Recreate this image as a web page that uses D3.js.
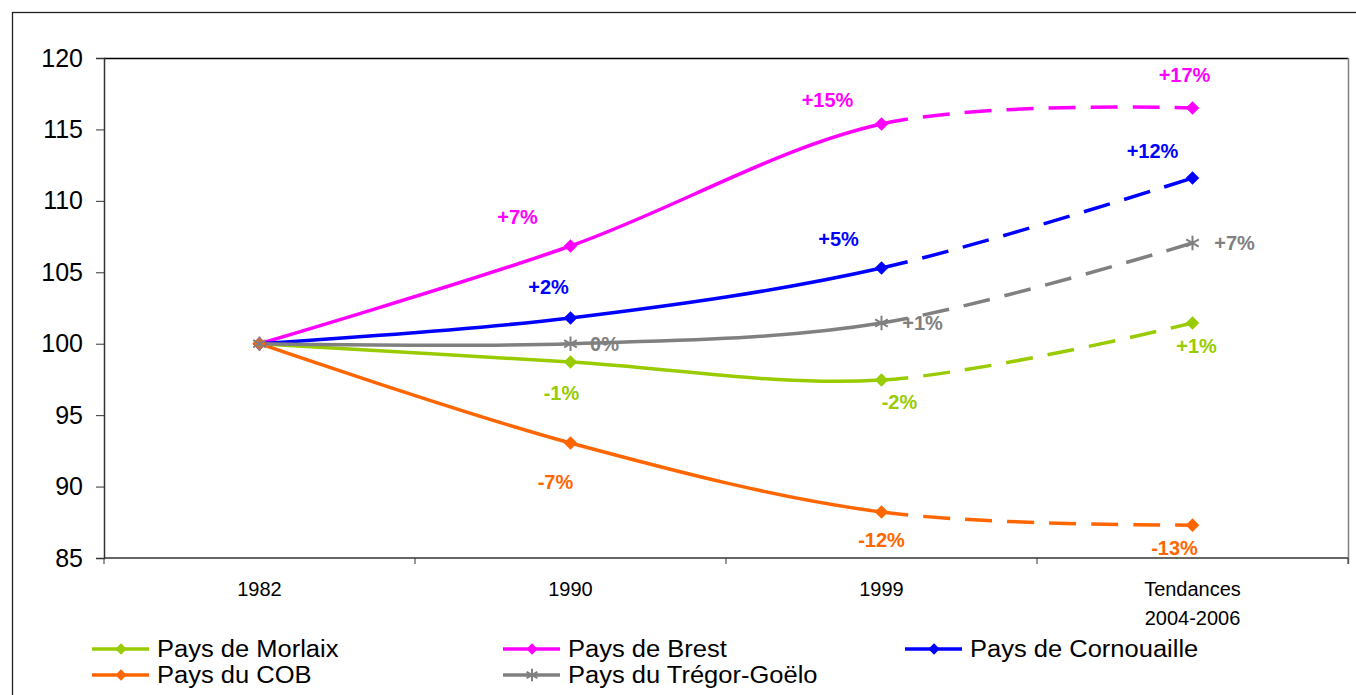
<!DOCTYPE html>
<html>
<head>
<meta charset="utf-8">
<script src="https://cdn.jsdelivr.net/npm/d3@7"></script>
<style>
  body { margin: 0; background: #fff; }
  svg { display: block; font-family: "Liberation Sans", Arial, sans-serif; }
</style>
</head>
<body>
<div id="chart"></div>
<script>
// categories on the x axis (second line of the last one goes under it)
var categories = ["1982", "1990", "1999", "Tendances"];
var categoryLines = [["1982"], ["1990"], ["1999"], ["Tendances", "2004-2006"]];

// series (index, base 100 in 1982)
var seriesNames = ["Pays de Morlaix", "Pays de Brest", "Pays de Cornouaille", "Pays du COB", "Pays du Trégor-Goëlo"];
var morlaix     = [100, 98.72, 97.46, 101.45];
var brest       = [100, 106.84, 115.38, 116.5];
var cornouaille = [100, 101.8, 105.3, 111.6];
var cob         = [100, 93.05, 88.22, 87.3];
var tregor      = [100, 100.0, 101.45, 107.05];

// percent labels shown next to points (none for 1982)
var morlaixLabels     = [null, "-1%", "-2%", "+1%"];
var brestLabels       = [null, "+7%", "+15%", "+17%"];
var cornouailleLabels = [null, "+2%", "+5%", "+12%"];
var cobLabels         = [null, "-7%", "-12%", "-13%"];
var tregorLabels      = [null, "0%", "+1%", "+7%"];

var yTicks = [85, 90, 95, 100, 105, 110, 115, 120];

var colors = ["#99CC00", "#FF00FF", "#0000FF", "#FF6600", "#808080"];
var symbols = ["diamond", "diamond", "diamond", "diamond", "star"];

// label offsets from their point, in pixels [dx, dy]
var labelOffsets = [
  [null, [-9, 31], [18, 22], [4, 23]],
  [null, [-53, -29], [-54, -24], [-8, -33]],
  [null, [-22, -31], [-43, -29], [-40, -27]],
  [null, [-15, 39], [0, 28], [-18, 23]],
  [null, [34, 0], [41, 0], [42, 0]]
];

var series = [morlaix, brest, cornouaille, cob, tregor];
var labels = [morlaixLabels, brestLabels, cornouailleLabels, cobLabels, tregorLabels];

var W = 1356, H = 695;
var margin = { top: 58, right: 8, bottom: 137, left: 104 };
var width = W - margin.left - margin.right;
var height = H - margin.top - margin.bottom;

var svg = d3.select("#chart").append("svg")
    .attr("width", W)
    .attr("height", H);

// outer frame
svg.append("rect")
    .attr("x", 12.5).attr("y", 12.5)
    .attr("width", W).attr("height", H)
    .attr("fill", "none")
    .attr("stroke", "#222")
    .attr("stroke-width", 1.3);

var g = svg.append("g")
    .attr("transform", "translate(" + margin.left + "," + margin.top + ")");

var x = d3.scaleBand().domain(categories).range([0, width]);
var y = d3.scaleLinear().domain([85, 120]).range([height, 0]);
var cx = function (c) { return x(c) + x.bandwidth() / 2; };

// plot area border: top black, right grey
g.append("line").attr("x1", 0).attr("x2", width).attr("y1", 0.5).attr("y2", 0.5)
    .attr("stroke", "#000").attr("stroke-width", 1.3);
g.append("line").attr("x1", width + 0.5).attr("x2", width + 0.5).attr("y1", 0).attr("y2", height + 6)
    .attr("stroke", "#808080").attr("stroke-width", 1.5);

// y axis
var yAxis = g.append("g")
    .attr("class", "axis axis--y")
    .call(d3.axisLeft(y).tickValues(yTicks).tickSize(8).tickPadding(13));
yAxis.select(".domain").attr("stroke", "#333").attr("stroke-width", 1.5);
yAxis.selectAll(".tick line").attr("stroke", "#333");
yAxis.selectAll(".tick text")
    .attr("font-size", 25)
    .attr("fill", "#000")
    .attr("font-family", "Liberation Sans, Arial, sans-serif");

// x axis: ticks at band boundaries
var xAxis = g.append("g")
    .attr("class", "axis axis--x")
    .attr("transform", "translate(0," + height + ")");
xAxis.append("line").attr("x1", 0).attr("x2", width).attr("y1", 0).attr("y2", 0)
    .attr("stroke", "#333").attr("stroke-width", 1.6);
xAxis.selectAll(".xtick")
    .data(categories.concat(["end"]))
    .enter().append("line")
    .attr("class", "xtick")
    .attr("x1", function (d, i) { return i < categories.length ? x(d) : width; })
    .attr("x2", function (d, i) { return i < categories.length ? x(d) : width; })
    .attr("y1", 0).attr("y2", 6)
    .attr("stroke", "#333");
xAxis.selectAll(".xlabel")
    .data(categories)
    .enter().append("text")
    .attr("class", "xlabel")
    .attr("text-anchor", "middle")
    .attr("font-size", 20)
    .attr("fill", "#000")
    .each(function (d, i) {
      var t = d3.select(this);
      categoryLines[i].forEach(function (s, k) {
        t.append("tspan")
          .attr("x", cx(d))
          .attr("y", 38 + k * 29)
          .text(s);
      });
    });

// lines: smooth curve, solid up to 1999, dashed afterwards
var line = d3.line()
    .x(function (d, i) { return cx(categories[i]); })
    .y(function (d) { return y(d); })
    .curve(d3.curveCardinal.tension(0));

var diamond = d3.symbol().type(d3.symbolSquare).size(92)();
var star = d3.symbol().type(d3.symbolAsterisk).size(150)();

function drawMarker(sel, i) {
  if (symbols[i] === "star") {
    sel.append("path").attr("d", star)
      .attr("fill", "none").attr("stroke", colors[i]).attr("stroke-width", 2);
  } else {
    sel.append("path").attr("d", diamond)
      .attr("transform", "rotate(45)")
      .attr("fill", colors[i]);
  }
}

var order = [0, 1, 2, 3, 4];
order.forEach(function (i) {
  var d = line(series[i]);
  var parts = d.split("C");
  var solid = parts[0] + "C" + parts[1] + "C" + parts[2];
  var prev = parts[2].split(",");
  var start = "M" + prev[prev.length - 2] + "," + prev[prev.length - 1];
  var dashed = start + "C" + parts[3];

  g.append("path").attr("d", solid)
    .attr("fill", "none").attr("stroke", colors[i]).attr("stroke-width", 3.5)
    .attr("stroke-linejoin", "round");
  g.append("path").attr("d", dashed)
    .attr("fill", "none").attr("stroke", colors[i]).attr("stroke-width", 3.5)
    .attr("stroke-dasharray", "27,15");
});

order.forEach(function (i) {
  series[i].forEach(function (v, k) {
    var m = g.append("g")
      .attr("transform", "translate(" + cx(categories[k]) + "," + y(v) + ")");
    drawMarker(m, i);
  });
});

// percent labels
order.forEach(function (i) {
  series[i].forEach(function (v, k) {
    if (!labels[i][k]) return;
    var off = labelOffsets[i][k];
    g.append("text")
      .attr("x", cx(categories[k]) + off[0])
      .attr("y", y(v) + off[1])
      .attr("text-anchor", "middle")
      .attr("dominant-baseline", "central")
      .attr("font-size", 20)
      .attr("font-weight", "bold")
      .attr("fill", colors[i])
      .text(labels[i][k]);
  });
});

// legend, 3 columns, row-major
var legendCols = [92, 503, 905];
var legendRows = [649, 675];
var legend = svg.append("g").attr("class", "legend");
seriesNames.forEach(function (name, i) {
  var lx = legendCols[i % 3], ly = legendRows[Math.floor(i / 3)];
  var item = legend.append("g").attr("transform", "translate(" + lx + "," + ly + ")");
  item.append("line").attr("x1", 0).attr("x2", 57).attr("y1", 0).attr("y2", 0)
    .attr("stroke", colors[i]).attr("stroke-width", 3.5);
  var m = item.append("g").attr("transform", "translate(29,0)");
  if (symbols[i] === "star") {
    m.append("path").attr("d", d3.symbol().type(d3.symbolAsterisk).size(110)())
      .attr("fill", "none").attr("stroke", colors[i]).attr("stroke-width", 2);
  } else {
    m.append("path").attr("d", d3.symbol().type(d3.symbolSquare).size(64)())
      .attr("transform", "rotate(45)").attr("fill", colors[i]);
  }
  // text slightly stretched horizontally, like the original legend
  item.append("text")
    .attr("transform", "translate(65,8) scale(1.16,1.1)")
    .attr("font-size", 22)
    .attr("fill", "#000")
    .text(name);
});
</script>
</body>
</html>
